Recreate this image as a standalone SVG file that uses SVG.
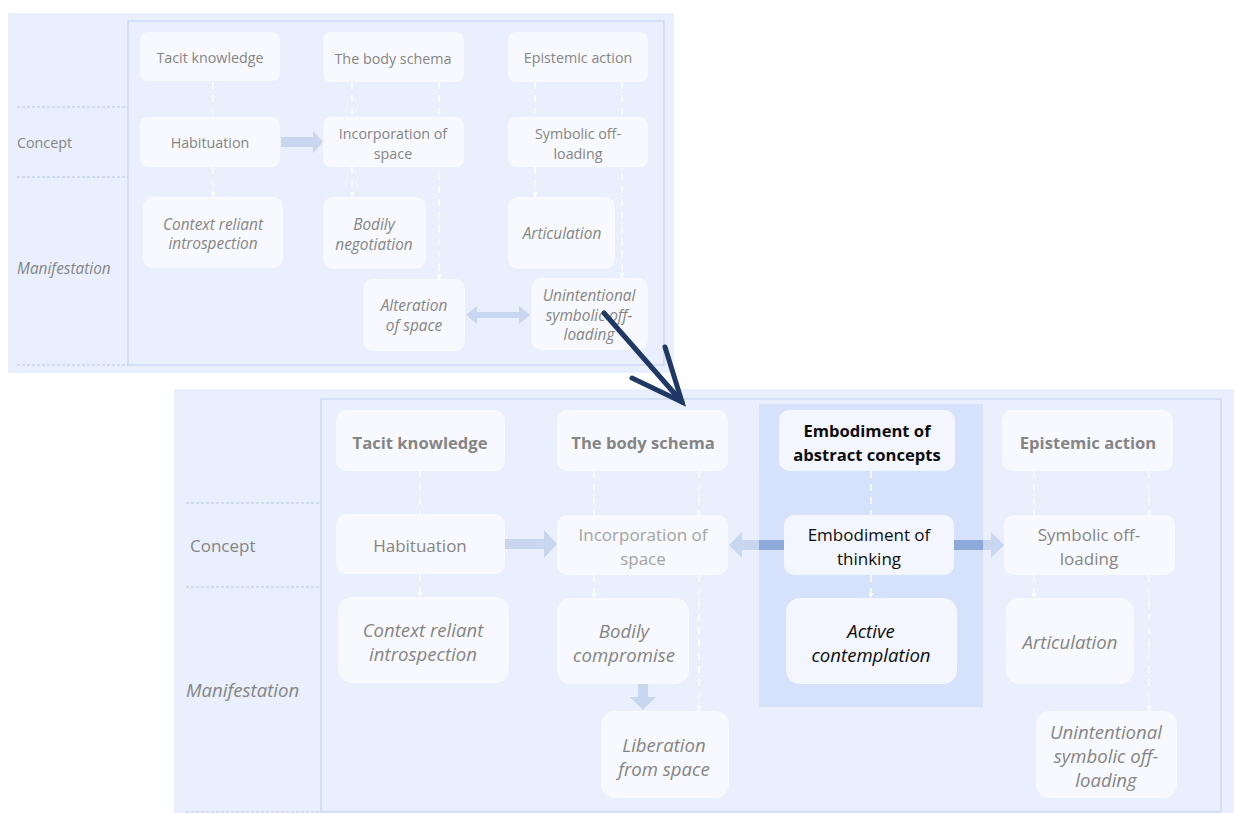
<svg xmlns="http://www.w3.org/2000/svg" width="1236" height="813" viewBox="0 0 1236 813">
  <style>
    .panel { fill: #e9effc; }
    .frame { fill: #e9effc; stroke: #c6d4f0; stroke-width: 1.2; }
    .sep { stroke: #b8c6e2; stroke-width: 1; stroke-dasharray: 3 2; }
    .node { fill: #f8f9fe; }
    .hinode { fill: #f3f6fe; }
    .col { fill: #d6e1fb; }
    .t { font-family: "Open Sans", "Liberation Sans", sans-serif; fill: #858585; text-anchor: middle; dominant-baseline: central; }
    .s { font-size: 14.3px; }
    .l { font-size: 17px; }
    .s.i { font-size: 15.4px; }
    .l.i { font-size: 18.6px; }
    .l.b { font-size: 16.6px; }
    .i { font-style: italic; }
    .b { font-weight: bold; }
    .lab { text-anchor: start; }
    .dark { fill: #0d0d0d; }
    .pale { fill: #a3a3a3; }
    .dash { stroke: #ffffff; stroke-width: 1.4; stroke-dasharray: 7 6; fill: none; }
    .fat { fill: #c8d6ef; }
    .fatdark { fill: #8eaadb; }
    .navy { stroke: #1f3864; stroke-width: 5; stroke-linecap: round; fill: none; }
  </style>
  <defs>
    <marker id="wh" viewBox="0 0 10 10" refX="10" refY="5" markerWidth="5" markerHeight="5" orient="auto" markerUnits="userSpaceOnUse">
      <path d="M0,0 L10,5 L0,10 Z" fill="#ffffff"/>
    </marker>
  </defs>

  <!-- ===== Earlier model (top) ===== -->
  <g id="top-panel">
    <rect class="panel" x="8" y="13" width="666" height="360"/>
    <rect class="frame" x="128" y="21" width="536" height="344"/>
    <line class="sep" x1="17" y1="107" x2="128" y2="107"/>
    <line class="sep" x1="17" y1="177" x2="128" y2="177"/>
    <line class="sep" x1="17" y1="365" x2="128" y2="365"/>
    <text class="t s lab" x="17" y="142">Concept</text>
    <text class="t s i lab" x="17" y="268">Manifestation</text>
  </g>

  <g id="top-connectors">
    <line class="dash" x1="213" y1="82" x2="213" y2="117"/>
    <line class="dash" x1="213" y1="167" x2="213" y2="197" marker-end="url(#wh)"/>
    <line class="dash" x1="352" y1="82" x2="352" y2="117"/>
    <line class="dash" x1="352" y1="167" x2="352" y2="197" marker-end="url(#wh)"/>
    <line class="dash" x1="439" y1="82" x2="439" y2="279" marker-end="url(#wh)"/>
    <line class="dash" x1="535" y1="82" x2="535" y2="117"/>
    <line class="dash" x1="535" y1="167" x2="535" y2="197" marker-end="url(#wh)"/>
    <line class="dash" x1="622" y1="82" x2="622" y2="278" marker-end="url(#wh)"/>
    <!-- Habituation to Incorporation -->
    <path class="fat" d="M281,137 H313 V131 L323,142 L313,153 V147 H281 Z"/>
    <!-- Alteration to/from Unintentional -->
    <path class="fat" d="M466,315 L477,306 V312 H519 V306 L530,315 L519,324 V318 H477 V324 Z"/>
  </g>

  <g id="top-tacit">
    <rect class="node" x="140" y="32" width="140" height="49" rx="8"/>
    <text class="t s" x="210" y="57">Tacit knowledge</text>
  </g>
  <g id="top-body-schema">
    <rect class="node" x="323" y="32" width="141" height="50" rx="8"/>
    <text class="t s" x="393" y="58">The body schema</text>
  </g>
  <g id="top-epistemic">
    <rect class="node" x="508" y="32" width="140" height="50" rx="8"/>
    <text class="t s" x="578" y="57">Epistemic action</text>
  </g>
  <g id="top-habituation">
    <rect class="node" x="140" y="117" width="140" height="50" rx="8"/>
    <text class="t s" x="210" y="142">Habituation</text>
  </g>
  <g id="top-incorporation">
    <rect class="node" x="323" y="117" width="141" height="50" rx="8"/>
    <text class="t s" x="393" y="133">Incorporation of</text>
    <text class="t s" x="393" y="153">space</text>
  </g>
  <g id="top-symbolic">
    <rect class="node" x="508" y="117" width="140" height="50" rx="8"/>
    <text class="t s" x="578" y="133">Symbolic off-</text>
    <text class="t s" x="578" y="153">loading</text>
  </g>
  <g id="top-context">
    <rect class="node" x="143" y="197" width="140" height="71" rx="10"/>
    <text class="t s i" x="213" y="224">Context reliant</text>
    <text class="t s i" x="213" y="243">introspection</text>
  </g>
  <g id="top-bodily">
    <rect class="node" x="323" y="197" width="103" height="72" rx="10"/>
    <text class="t s i" x="374" y="224">Bodily</text>
    <text class="t s i" x="374" y="244">negotiation</text>
  </g>
  <g id="top-articulation">
    <rect class="node" x="508" y="197" width="107" height="72" rx="10"/>
    <text class="t s i" x="562" y="233">Articulation</text>
  </g>
  <g id="top-alteration">
    <rect class="node" x="363" y="279" width="102" height="72" rx="10"/>
    <text class="t s i" x="414" y="305">Alteration</text>
    <text class="t s i" x="414" y="325">of space</text>
  </g>
  <g id="top-unintentional">
    <rect class="node" x="531" y="278" width="117" height="72" rx="10"/>
    <text class="t s i" x="589" y="295">Unintentional</text>
    <text class="t s i" x="589" y="315">symbolic off-</text>
    <text class="t s i" x="589" y="334">loading</text>
  </g>

  <!-- ===== Revised model (bottom) ===== -->
  <g id="bottom-panel">
    <rect class="panel" x="174" y="389" width="1060" height="424"/>
    <rect class="frame" x="321" y="399" width="900" height="413"/>
    <line class="sep" x1="186" y1="503" x2="321" y2="503"/>
    <line class="sep" x1="186" y1="587" x2="321" y2="587"/>
    <line class="sep" x1="186" y1="812" x2="321" y2="812"/>
    <text class="t l lab" x="190" y="545">Concept</text>
    <text class="t l i lab" x="186" y="689">Manifestation</text>
    <rect class="col" x="759" y="404" width="224" height="303"/>
  </g>

  <g id="bottom-connectors">
    <line class="dash" x1="420" y1="471" x2="420" y2="514"/>
    <line class="dash" x1="420" y1="574" x2="420" y2="597" marker-end="url(#wh)"/>
    <line class="dash" x1="594" y1="471" x2="594" y2="515"/>
    <line class="dash" x1="594" y1="575" x2="594" y2="598" marker-end="url(#wh)"/>
    <line class="dash" x1="699" y1="471" x2="699" y2="711" marker-end="url(#wh)"/>
    <line class="dash" x1="871" y1="471" x2="871" y2="515"/>
    <line class="dash" x1="871" y1="575" x2="871" y2="598" marker-end="url(#wh)"/>
    <line class="dash" x1="1034" y1="471" x2="1034" y2="515"/>
    <line class="dash" x1="1034" y1="575" x2="1034" y2="598" marker-end="url(#wh)"/>
    <line class="dash" x1="1149" y1="471" x2="1149" y2="711" marker-end="url(#wh)"/>
    <!-- Habituation to Incorporation -->
    <path class="fat" d="M505,539 H544 V530 L557,544 L544,558 V549 H505 Z"/>
    <!-- Embodiment of thinking to Incorporation -->
    <path class="fat" d="M729,545 L742,532 V540 H759 V550 H742 V558 Z"/>
    <rect class="fatdark" x="759" y="540" width="25" height="10"/>
    <!-- Embodiment of thinking to Symbolic off-loading -->
    <rect class="fatdark" x="954" y="540" width="29" height="10"/>
    <path class="fat" d="M983,540 H991 V532 L1004,545 L991,558 V550 H983 Z"/>
    <!-- Bodily compromise to Liberation from space -->
    <path class="fat" d="M638,684 H648 V697 H656 L643,710 L630,697 H638 Z"/>
  </g>

  <g id="bottom-tacit">
    <rect class="node" x="336" y="410" width="169" height="61" rx="10"/>
    <text class="t l b" x="420" y="442">Tacit knowledge</text>
  </g>
  <g id="bottom-body-schema">
    <rect class="node" x="557" y="410" width="171" height="61" rx="10"/>
    <text class="t l b" x="643" y="442">The body schema</text>
  </g>
  <g id="bottom-abstract">
    <rect class="hinode" x="779" y="410" width="176" height="61" rx="10"/>
    <text class="t l b dark" x="867" y="430">Embodiment of</text>
    <text class="t l b dark" x="867" y="454">abstract concepts</text>
  </g>
  <g id="bottom-epistemic">
    <rect class="node" x="1002" y="410" width="171" height="61" rx="10"/>
    <text class="t l b" x="1088" y="442">Epistemic action</text>
  </g>
  <g id="bottom-habituation">
    <rect class="node" x="336" y="514" width="169" height="60" rx="10"/>
    <text class="t l" x="420" y="545">Habituation</text>
  </g>
  <g id="bottom-incorporation">
    <rect class="node" x="557" y="515" width="171" height="60" rx="10"/>
    <text class="t l pale" x="643" y="534">Incorporation of</text>
    <text class="t l pale" x="643" y="558">space</text>
  </g>
  <g id="bottom-thinking">
    <rect class="hinode" x="784" y="515" width="170" height="60" rx="10"/>
    <text class="t l dark" x="869" y="534">Embodiment of</text>
    <text class="t l dark" x="869" y="558">thinking</text>
  </g>
  <g id="bottom-symbolic">
    <rect class="node" x="1004" y="515" width="171" height="60" rx="10"/>
    <text class="t l" x="1089" y="534">Symbolic off-</text>
    <text class="t l" x="1089" y="558">loading</text>
  </g>
  <g id="bottom-context">
    <rect class="node" x="338" y="597" width="171" height="86" rx="14"/>
    <text class="t l i" x="423" y="629">Context reliant</text>
    <text class="t l i" x="423" y="653">introspection</text>
  </g>
  <g id="bottom-bodily">
    <rect class="node" x="557" y="598" width="132" height="86" rx="14"/>
    <text class="t l i" x="624" y="630">Bodily</text>
    <text class="t l i" x="624" y="654">compromise</text>
  </g>
  <g id="bottom-active">
    <rect class="hinode" x="786" y="598" width="171" height="86" rx="14"/>
    <text class="t l i dark" x="871" y="630">Active</text>
    <text class="t l i dark" x="871" y="654">contemplation</text>
  </g>
  <g id="bottom-articulation">
    <rect class="node" x="1006" y="598" width="128" height="86" rx="14"/>
    <text class="t l i" x="1070" y="641">Articulation</text>
  </g>
  <g id="bottom-liberation">
    <rect class="node" x="601" y="711" width="128" height="87" rx="14"/>
    <text class="t l i" x="664" y="744">Liberation</text>
    <text class="t l i" x="664" y="768">from space</text>
  </g>
  <g id="bottom-unintentional">
    <rect class="node" x="1036" y="711" width="141" height="87" rx="14"/>
    <text class="t l i" x="1106" y="731">Unintentional</text>
    <text class="t l i" x="1106" y="755">symbolic off-</text>
    <text class="t l i" x="1106" y="779">loading</text>
  </g>

  <!-- transition from the earlier model to the revised one -->
  <g id="transition">
    <line class="navy" x1="604" y1="313" x2="682" y2="402"/>
    <polyline class="navy" points="632,378 682,402 665,347"/>
  </g>
</svg>
